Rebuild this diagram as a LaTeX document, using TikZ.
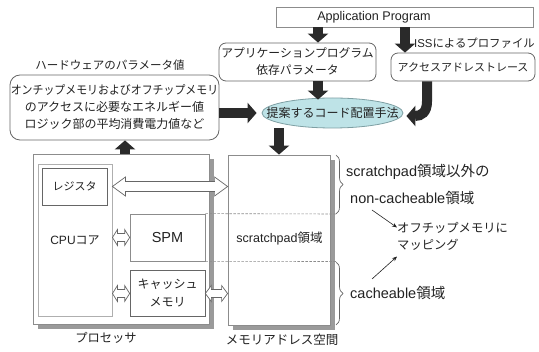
\documentclass[tikz,border=0pt]{standalone}
\usepackage{fontspec}
\setmainfont{Liberation Sans}
\newfontfamily\jp{Noto Sans CJK JP}
\usetikzlibrary{arrows.meta,shapes.geometric,calc,decorations.pathreplacing,shadows}
\newcommand\myfs[2]{\fontsize{#1}{#2}\selectfont}
% hollow double arrow between two named points: #1 left, #2 right, #3 body half, #4 head half, #5 head length
\newcommand\hollowdbl[5]{%
  \draw[hollowline] (#1) -- ($(#1)+(#5,-#4)$) -- ($(#1)+(#5,-#3)$) -- ($(#2)+(-#5,-#3)$)
    -- ($(#2)+(-#5,-#4)$) -- (#2) -- ($(#2)+(-#5,#4)$) -- ($(#2)+(-#5,#3)$)
    -- ($(#1)+(#5,#3)$) -- ($(#1)+(#5,#4)$) -- cycle;}
\definecolor{ink}{HTML}{222222}
\definecolor{dark}{HTML}{2A2A2A}
\definecolor{edge}{HTML}{666666}
\definecolor{lite}{HTML}{8C8C8C}
\definecolor{shad}{HTML}{9A9A9A}
\definecolor{ellfill}{HTML}{BEE3E7}
\definecolor{elledge}{HTML}{7E9FA3}
\begin{document}
\begin{tikzpicture}[x=1pt,y=-1pt,
  every node/.style={text=ink, inner sep=0pt},
  plainbox/.style={draw=lite, fill=white, line width=0.8pt},
  roundbox/.style={draw=edge, fill=white, rounded corners=7pt, line width=0.8pt},
  shadowbox/.style={draw=lite, fill=white, line width=0.8pt,
     drop shadow={shadow xshift=5pt, shadow yshift=-5pt, fill=shad, opacity=1}},
  fat/.style={line width=10pt, draw=dark, -{Triangle[width=20pt,length=9pt]}},
  hollowline/.style={draw=edge, fill=white, line width=0.7pt, line join=miter},
  thinarrow/.style={draw=ink, line width=0.6pt, -{Stealth[length=5pt,width=4pt]}},
  bracestyle/.style={draw=edge, line width=0.7pt, decorate, decoration={brace, amplitude=7pt}},
  dashline/.style={draw=lite, line width=0.6pt, dash pattern=on 2.5pt off 1.5pt}
]
\useasboundingbox (0,0) rectangle (539,352);

% top part
\node[plainbox, minimum width=257pt, minimum height=20pt] (app) at (404.5,17) {};
\node[font=\myfs{12.6}{14}] (apptext) at (374,17) {Application Program};
\node[roundbox, minimum width=157pt, minimum height=38pt, align=center, font=\jp\myfs{11.8}{17}] (params) at (297.5,62)
  {アプリケーションプログラム\\依存パラメータ};
\node[roundbox, minimum width=144pt, minimum height=28pt, font=\jp\myfs{11}{13}] (acc) at (463,67)
  {アクセスアドレストレース};
\node[ellipse, draw=elledge, fill=ellfill, line width=0.8pt, minimum width=141pt, minimum height=30pt] (ell) at (332.5,113) {};
\node[font=\jp\myfs{12}{14}] (elltext) at (ell.center) {提案するコード配置手法};
\node[anchor=west] (iss) at (414,43) {\myfs{11.4}{14}ISS\jp によるプロファイル};

\node[font=\jp\myfs{11.5}{14}] (hwtitle) at (110,65) {ハードウェアのパラメータ値};
\node[roundbox, rounded corners=10pt, minimum width=209pt, minimum height=65pt, align=center,
  font=\jp\myfs{12}{17}] (hw) at (114.5,107.5)
  {\scalebox{0.91}[1]{オンチップメモリおよびオフチップメモリ}\\のアクセスに必要なエネルギー値\\ロジック部の平均消費電力値など};

% processor
\node[shadowbox, minimum width=176pt, minimum height=170pt] (proc) at (121,239) {};
\node[draw=lite!70, fill=white, line width=0.9pt, minimum width=74pt, minimum height=152pt,
  font=\myfs{12}{14}] (core) at (75,240) {CPU\jp コア};
\node[draw=edge, line width=0.7pt, minimum width=65pt, minimum height=37pt,
  font=\jp\myfs{11}{13}] (reg) at (74.5,186.5) {レジスタ};
\node[draw=lite, fill=white, line width=0.7pt, minimum width=75pt, minimum height=47pt,
  font=\myfs{14.5}{16}] (spm) at (167.5,237.5) {SPM};
\node[draw=edge, fill=white, line width=0.7pt, minimum width=75pt, minimum height=46pt, align=center,
  font=\jp\myfs{12}{18}] (cache) at (167.5,293.5) {キャッシュ\\メモリ};
\node[font=\jp\myfs{12.3}{14}] (proclabel) at (106,338) {プロセッサ};

% memory
\node[shadowbox, minimum width=102pt, minimum height=170pt] (mem) at (279,240) {};
\node[font=\myfs{12.5}{14}] (spad) at (279.5,239) {scratchpad\jp 領域};
\node[font=\jp\myfs{12.5}{14}] (memlabel) at (282,340) {メモリアドレス空間};

% dashed region borders
\coordinate (dend1) at (336,214);
\coordinate (dend2) at (336,261.5);
\draw[dashline] (spm.north east) -- (dend1);
\draw[dashline] (spm.south east) -- (dend2);

% braces
\coordinate (b1t) at (336,155);
\coordinate (b1b) at (336,214);
\coordinate (b2t) at (336,262);
\coordinate (b2b) at (336,325);
\draw[bracestyle] (b1t) -- (b1b);
\draw[bracestyle] (b2t) -- (b2b);

\node[anchor=west, font=\myfs{14.5}{16}] (lab1) at (346,172) {scratchpad\jp 領域以外の};
\node[anchor=west, font=\myfs{14.5}{16}] (lab2) at (350,198) {non-cacheable\jp 領域};
\node[anchor=west, font=\myfs{14.5}{16}] (lab3) at (350,293) {cacheable\jp 領域};
\node[anchor=west, align=left, font=\jp\myfs{12.3}{17}] (map) at (397,236.5) {オフチップメモリに\\マッピング};

\coordinate (t1) at (372,210);
\coordinate (t2) at (372,279);
\draw[thinarrow] (t1) -- ([yshift=9pt]map.west);
\draw[thinarrow] (t2) -- ([yshift=-20pt]map.west);

% hollow double arrows
\coordinate (busL) at (core.east |- reg.east);
\coordinate (busR) at (mem.west |- reg.east);
\hollowdbl{busL}{busR}{5}{9.5}{13}
\coordinate (s1L) at (core.east |- spm.west);
\hollowdbl{s1L}{spm.west}{4}{8}{5}
\coordinate (s2L) at (core.east |- cache.west);
\hollowdbl{s2L}{cache.west}{4}{8}{5}
\coordinate (s3R) at (mem.west |- cache.east);
\hollowdbl{cache.east}{s3R}{4}{8}{6}

% fat arrows
\coordinate (ax) at (318,0);
\coordinate (bx) at (405,0);
\coordinate (cx) at (125,0);
\draw[fat] (ax |- app.south) -- (ax |- params.north);
\draw[fat] (ax |- params.south) -- ([yshift=-2pt]ax |- ell.north);
\draw[fat] (bx |- app.south) -- (bx |- acc.north);
\draw[fat] (hw.east |- ell.west) -- ([xshift=-5pt]ell.west);
\draw[fat] (cx |- proc.north) -- (cx |- hw.south);
\draw[fat] (mem.north |- ell.south) -- (mem.north);
\draw[fat] ([xshift=-36pt]acc.south) -- ([xshift=-36pt,yshift=-20pt]acc.south)
  .. controls ([xshift=-36pt,yshift=-31pt]acc.south) and ([xshift=18pt,yshift=-3pt]ell.east) .. ([xshift=3pt,yshift=-3pt]ell.east);
\end{tikzpicture}
\end{document}
